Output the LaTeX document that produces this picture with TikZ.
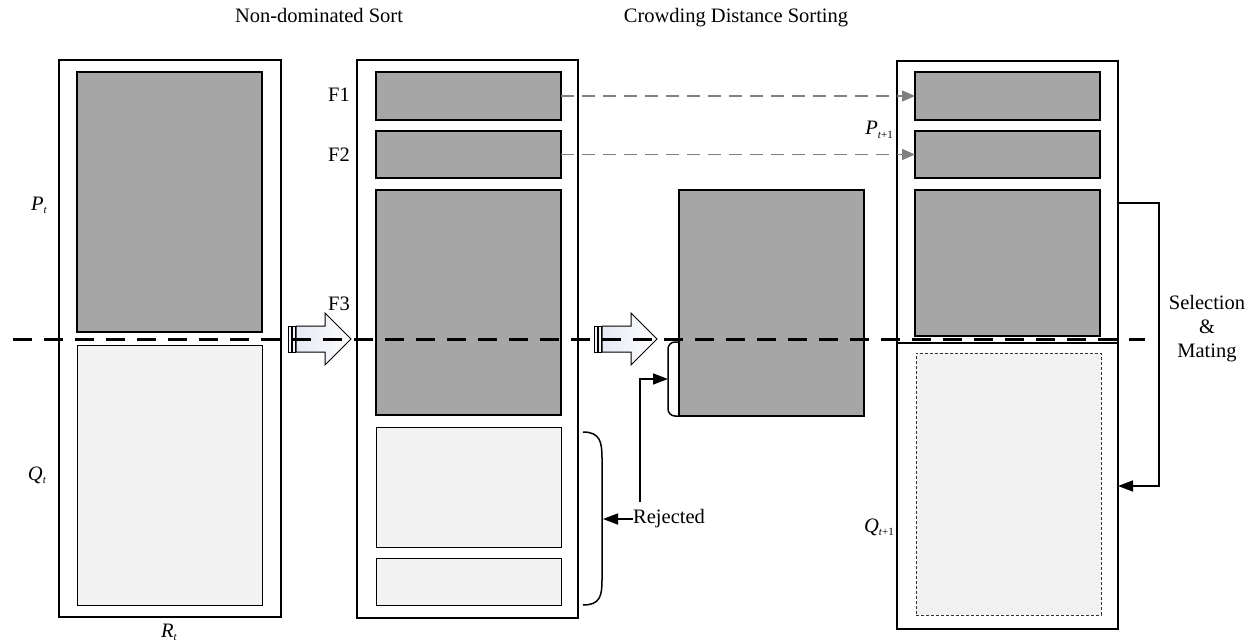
\documentclass[tikz,border=0pt]{standalone}
\usepackage{fontspec}
\setmainfont{Liberation Serif}
\usetikzlibrary{arrows.meta}
\definecolor{darkfill}{HTML}{A6A6A6}
\definecolor{lightfill}{HTML}{F2F2F2}
\definecolor{arrgray}{HTML}{808080}
\definecolor{arrshade}{HTML}{E6E9F4}
\newcommand\mysub[1]{\raisebox{-0.4ex}{\fontsize{11}{11}\selectfont #1}}
\tikzset{
  outerbox/.style={draw=black, line width=1.8pt, fill=white, inner sep=0pt, outer sep=0pt},
  darkbox/.style={draw=black, line width=1.3pt, fill=darkfill, inner sep=0pt, outer sep=0pt},
  lightbox/.style={draw=black, line width=1pt, fill=lightfill, inner sep=0pt, outer sep=0pt},
  dlightbox/.style={draw=black!80, line width=0.9pt, dash pattern=on 3pt off 2pt, fill=lightfill, inner sep=0pt, outer sep=0pt},
  lbl/.style={font=\fontsize{20.5}{24}\selectfont, inner sep=0pt, anchor=base},
  grayarrow/.style={draw=arrgray, line width=1.5pt, dash pattern=on 13pt off 8pt, -{Triangle[length=13pt,width=11pt]}, arrgray},
  thinarrow/.style={draw=black, line width=1.5pt, -{Triangle[length=15pt,width=11pt]}},
  blockarrow/.style={draw=black, line width=1pt, left color=arrshade, right color=white},
  mainsplit/.style={draw=black, line width=3pt, dash pattern=on 19pt off 12pt},
}
\begin{document}
\begin{tikzpicture}[x=1pt,y=-1pt]
\useasboundingbox (0,0) rectangle (1254,642);
% titles
\node[lbl] (t1) at (319,23) {Non-dominated Sort};
\node[lbl] (t2) at (736,23) {Crowding Distance Sorting};
% left column
\node[outerbox, minimum width=222pt, minimum height=557pt] (L) at (170,338.5) {};
\node[darkbox, minimum width=185pt, minimum height=260pt] (Pt) at (169.5,202) {};
\node[lightbox, minimum width=185pt, minimum height=260pt] (Qt) at (169.5,475) {};
\node[lbl] (lpt) at (39,210) {\textit{P}\mysub{\textit{t}}};
\node[lbl] (lqt) at (37,480) {\textit{Q}\mysub{\textit{t}}};
\node[lbl] (lrt) at (169,637) {\textit{R}\mysub{\textit{t}}};
% middle column
\node[outerbox, minimum width=221pt, minimum height=558pt] (M) at (467.5,339) {};
\node[darkbox, minimum width=185pt, minimum height=48pt] (F1) at (468.5,96) {};
\node[darkbox, minimum width=185pt, minimum height=47pt] (F2) at (468.5,154.5) {};
\node[darkbox, minimum width=185pt, minimum height=225pt] (F3) at (468.5,302.5) {};
\node[lightbox, minimum width=185pt, minimum height=120pt] (L1) at (468.5,487) {};
\node[lightbox, minimum width=185pt, minimum height=47pt] (L2) at (468.5,581.5) {};
\node[lbl] (lf1) at (339,102) {F1};
\node[lbl] (lf2) at (339,161) {F2};
\node[lbl] (lf3) at (339,310) {F3};
% crowding box
\node[darkbox, minimum width=185pt, minimum height=226pt] (C) at (771.5,303) {};
% right column
\node[outerbox, minimum width=221pt, minimum height=568pt] (R) at (1007.5,345) {};
\node[darkbox, minimum width=185pt, minimum height=48pt] (R1) at (1007.5,96) {};
\node[darkbox, minimum width=185pt, minimum height=47pt] (R2) at (1007.5,154.5) {};
\node[darkbox, minimum width=185pt, minimum height=146pt] (R3) at (1007.5,263) {};
\node[dlightbox, minimum width=185pt, minimum height=262pt] (Rd) at (1008.5,484) {};
\coordinate (rl) at (897,343);
\coordinate (rr) at (1118,343);
\draw[line width=1.8pt] (rl) -- (rr);
\node[lbl] (lpt1) at (879,135) {\textit{P}\mysub{\textit{t}+1}};
\node[lbl] (lqt1) at (879,532) {\textit{Q}\mysub{\textit{t}+1}};
% gray dashed arrows
\draw[grayarrow] (F1.east) -- (R1.west);
\draw[grayarrow] (F2.east) -- (R2.west);
% block arrows
\draw[blockarrow] (288,326) rectangle (291,352);
\draw[blockarrow] (292,326) rectangle (295,352);
\draw[blockarrow] (296,326) -- (325,326) -- (325,313) -- (351,339) -- (325,365) -- (325,352) -- (296,352) -- cycle;
\draw[blockarrow] (594,326) rectangle (597,352);
\draw[blockarrow] (598,326) rectangle (601,352);
\draw[blockarrow] (602,326) -- (631,326) -- (631,313) -- (657,339) -- (631,365) -- (631,352) -- (602,352) -- cycle;
% bracket at crowding box
\coordinate (cb1) at (680,342);
\coordinate (cb2) at (680,416);
\draw[line width=1.5pt, rounded corners=7pt] (cb1) -- (668,342) -- (668,416) -- (cb2);
% rejected
\node[lbl, anchor=west] (rej) at (633,519) {Rejected};
\coordinate (rbk) at (603,519);
\draw[line width=1.5pt] (583,432) .. controls (600,432) and (602,442) .. (602,458) -- (602,580) .. controls (602,596) and (600,605) .. (583,605);
\draw[thinarrow] (rej.west) -- (rbk);
\coordinate (up0) at (640,502);
\coordinate (cbt) at (668,379);
\draw[thinarrow] (up0) -- (640,379) -- (cbt);
% selection & mating
\coordinate (s1) at (1118,203);
\coordinate (s2) at (1118,486);
\draw[thinarrow] (s1) -- (1159,203) -- (1159,486) -- (s2);
\node[font=\fontsize{20.5}{24}\selectfont, align=center, inner sep=0pt] (sel) at (1207,329) {Selection\\\&\\Mating};
% main split dashed line
\coordinate (dl) at (13,339);
\coordinate (dr) at (1145,339);
\draw[mainsplit] (dl) -- (dr);
\end{tikzpicture}
\end{document}
